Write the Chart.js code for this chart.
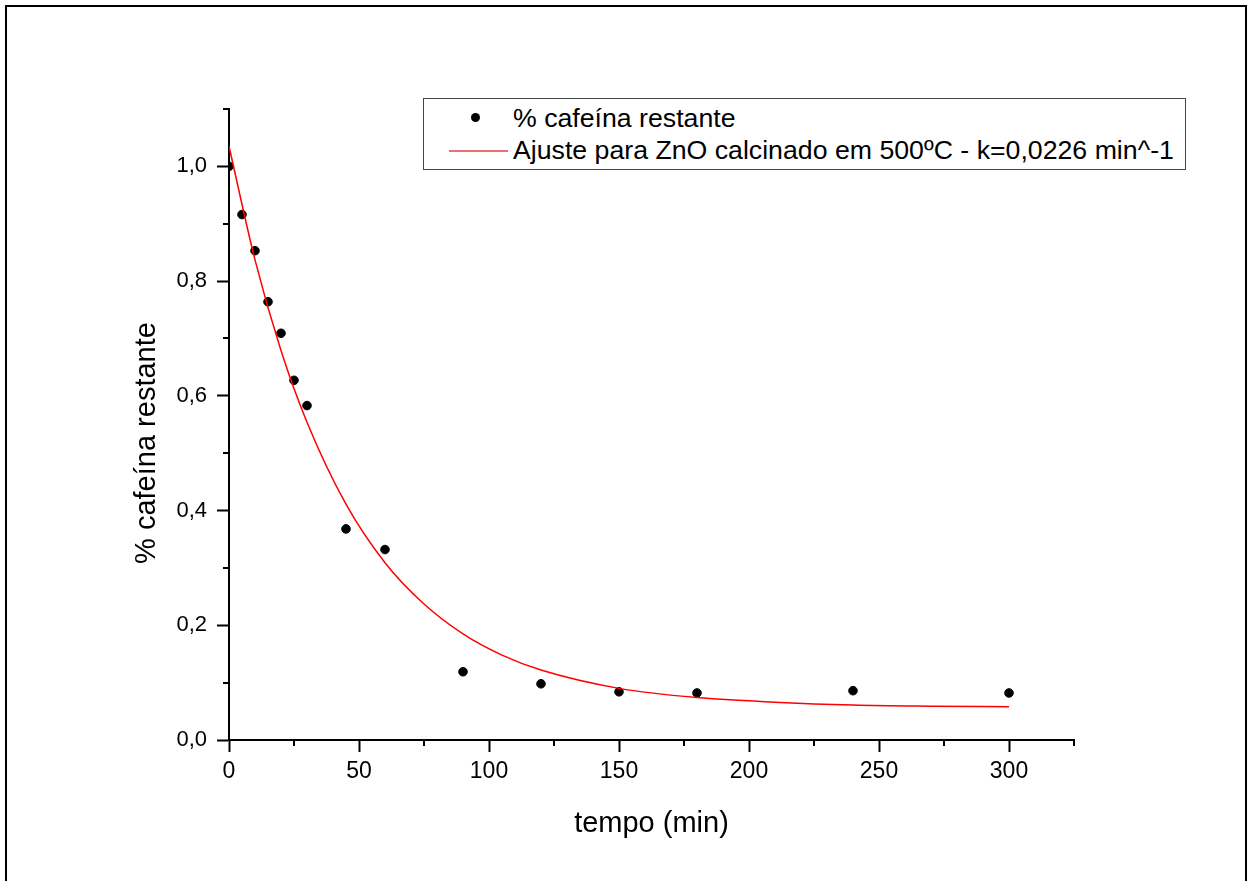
<!DOCTYPE html>
<html>
<head>
<meta charset="utf-8">
<script src="https://cdn.jsdelivr.net/npm/chart.js@4.4.1/dist/chart.umd.min.js"></script>
<style>
  html, body { margin: 0; padding: 0; background: #fff; overflow: hidden; }
  #wrap { position: relative; width: 1249px; height: 881px; }
  #frame {
    position: absolute; left: 5px; top: 5px; width: 1238px; height: 900px;
    border: 2px solid #000; pointer-events: none;
  }
  canvas { position: absolute; left: 0; top: 0; }
  #legend {
    position: absolute; left: 423px; top: 98px; width: 761px; height: 70px;
    border: 1px solid #444; background: #fff;
    font-family: 'Liberation Sans', Arial, sans-serif;
    font-size: 26.7px; color: #000;
  }
  .row { position: absolute; left: 0; height: 34px; line-height: 34px; white-space: nowrap; }
  .row span { position: absolute; left: 89px; }
  .dot { position: absolute; left: 47px; width: 9px; height: 9px; border-radius: 50%; background: #000; top: 12px; }
  .line { position: absolute; left: 25px; width: 59px; height: 2px; background: rgb(240, 110, 110); top: 17px; }
</style>
</head>
<body>
<div id="wrap">
  <canvas id="chart" width="1249" height="881"></canvas>
  <div id="frame"></div>
  <div id="legend">
    <div class="row" style="top: 2px;"><div class="dot"></div><span>% cafeína restante</span></div>
    <div class="row" style="top: 34px;"><div class="line"></div><span>Ajuste para ZnO calcinado em 500ºC - k=0,0226 min^-1</span></div>
  </div>
</div>
<script>
// medidos (pontos)
const tempo = [0, 5, 10, 15, 20, 25, 30, 45, 60, 90, 120, 150, 180, 240, 300];
const cafeina = [1.0, 0.916, 0.853, 0.764, 0.709, 0.627, 0.583, 0.368, 0.332, 0.119, 0.098, 0.084, 0.082, 0.086, 0.082];

// curva de ajuste
const ajusteTempo = [0, 10, 20, 30, 45, 60, 75, 90, 105, 120, 150, 180, 210, 240, 270, 300];
const ajusteValor = [1.035, 0.837, 0.679, 0.554, 0.411, 0.309, 0.237, 0.185, 0.148, 0.122, 0.090, 0.074, 0.066, 0.061, 0.059, 0.058];

const xMax = 325;
const yMax = 1.1;
const yTitle = '% cafeína restante';

const fontTicks = 'Liberation Sans, Arial, sans-serif';

const isMajorX = (v) => Math.round(v) % 50 === 0;
const isMajorY = (v) => Math.round(v * 10) % 2 === 0;

// ticks menores (mais curtos) e titulo do eixo y
const extras = {
  id: 'extras',
  afterDraw(chart) {
    const { ctx, chartArea, scales } = chart;
    ctx.save();
    ctx.strokeStyle = '#000';
    ctx.lineWidth = 2;
    scales.x.ticks.forEach((t) => {
      if (isMajorX(t.value)) return;
      const px = Math.round(scales.x.getPixelForValue(t.value));
      ctx.beginPath();
      ctx.moveTo(px, chartArea.bottom);
      ctx.lineTo(px, chartArea.bottom + 6);
      ctx.stroke();
    });
    scales.y.ticks.forEach((t) => {
      if (isMajorY(t.value)) return;
      const py = Math.round(scales.y.getPixelForValue(t.value));
      ctx.beginPath();
      ctx.moveTo(chartArea.left, py);
      ctx.lineTo(chartArea.left - 6, py);
      ctx.stroke();
    });

    ctx.translate(147, 443);
    ctx.rotate(-Math.PI / 2);
    ctx.fillStyle = '#000';
    ctx.font = '29px ' + fontTicks;
    ctx.textAlign = 'center';
    ctx.textBaseline = 'middle';
    ctx.fillText(yTitle, 0, 0);
    ctx.restore();
  },
};

new Chart(document.getElementById('chart'), {
  type: 'scatter',
  data: {
    datasets: [
      {
        label: 'Ajuste para ZnO calcinado em 500ºC - k=0,0226 min^-1',
        data: ajusteTempo.map((t, i) => ({ x: t, y: ajusteValor[i] })),
        showLine: true,
        borderColor: '#ff0000',
        borderWidth: 1.5,
        pointRadius: 0,
        cubicInterpolationMode: 'monotone',
        order: 1,
      },
      {
        label: '% cafeína restante',
        data: tempo.map((t, i) => ({ x: t, y: cafeina[i] })),
        backgroundColor: '#000',
        borderColor: '#000',
        pointRadius: 4.3,
        order: 2,
      },
    ],
  },
  options: {
    responsive: false,
    devicePixelRatio: 1,
    animation: false,
    layout: { padding: { left: 0, top: 109, right: 175, bottom: 0 } },
    plugins: { legend: { display: false }, tooltip: { enabled: false } },
    scales: {
      x: {
        type: 'linear',
        min: 0,
        max: xMax,
        afterFit: (scale) => { scale.height = 141; },
        border: { color: '#000', width: 2 },
        grid: {
          drawOnChartArea: false,
          tickLength: 12,
          tickWidth: 2,
          tickColor: (c) => (c.tick && isMajorX(c.tick.value) ? '#000' : 'rgba(0,0,0,0)'),
        },
        ticks: {
          stepSize: 25,
          padding: 6,
          color: '#000',
          font: { family: fontTicks, size: 23 },
          maxRotation: 0,
          autoSkip: false,
          callback: (v) => (isMajorX(v) ? String(v) : ''),
        },
        title: {
          display: true,
          text: 'tempo (min)',
          color: '#000',
          font: { family: fontTicks, size: 29 },
          padding: { top: 0, bottom: 40 },
        },
      },
      y: {
        type: 'linear',
        min: 0,
        max: yMax,
        afterFit: (scale) => { scale.width = 229; },
        border: { color: '#000', width: 2 },
        grid: {
          drawOnChartArea: false,
          tickLength: 12,
          tickWidth: 2,
          tickColor: (c) => (c.tick && isMajorY(c.tick.value) ? '#000' : 'rgba(0,0,0,0)'),
        },
        ticks: {
          stepSize: 0.1,
          padding: 10,
          color: '#000',
          font: { family: fontTicks, size: 22 },
          autoSkip: false,
          callback: (v) => (isMajorY(v) ? v.toFixed(1).replace('.', ',') : ''),
        },
      },
    },
  },
  plugins: [extras],
});
</script>
</body>
</html>
